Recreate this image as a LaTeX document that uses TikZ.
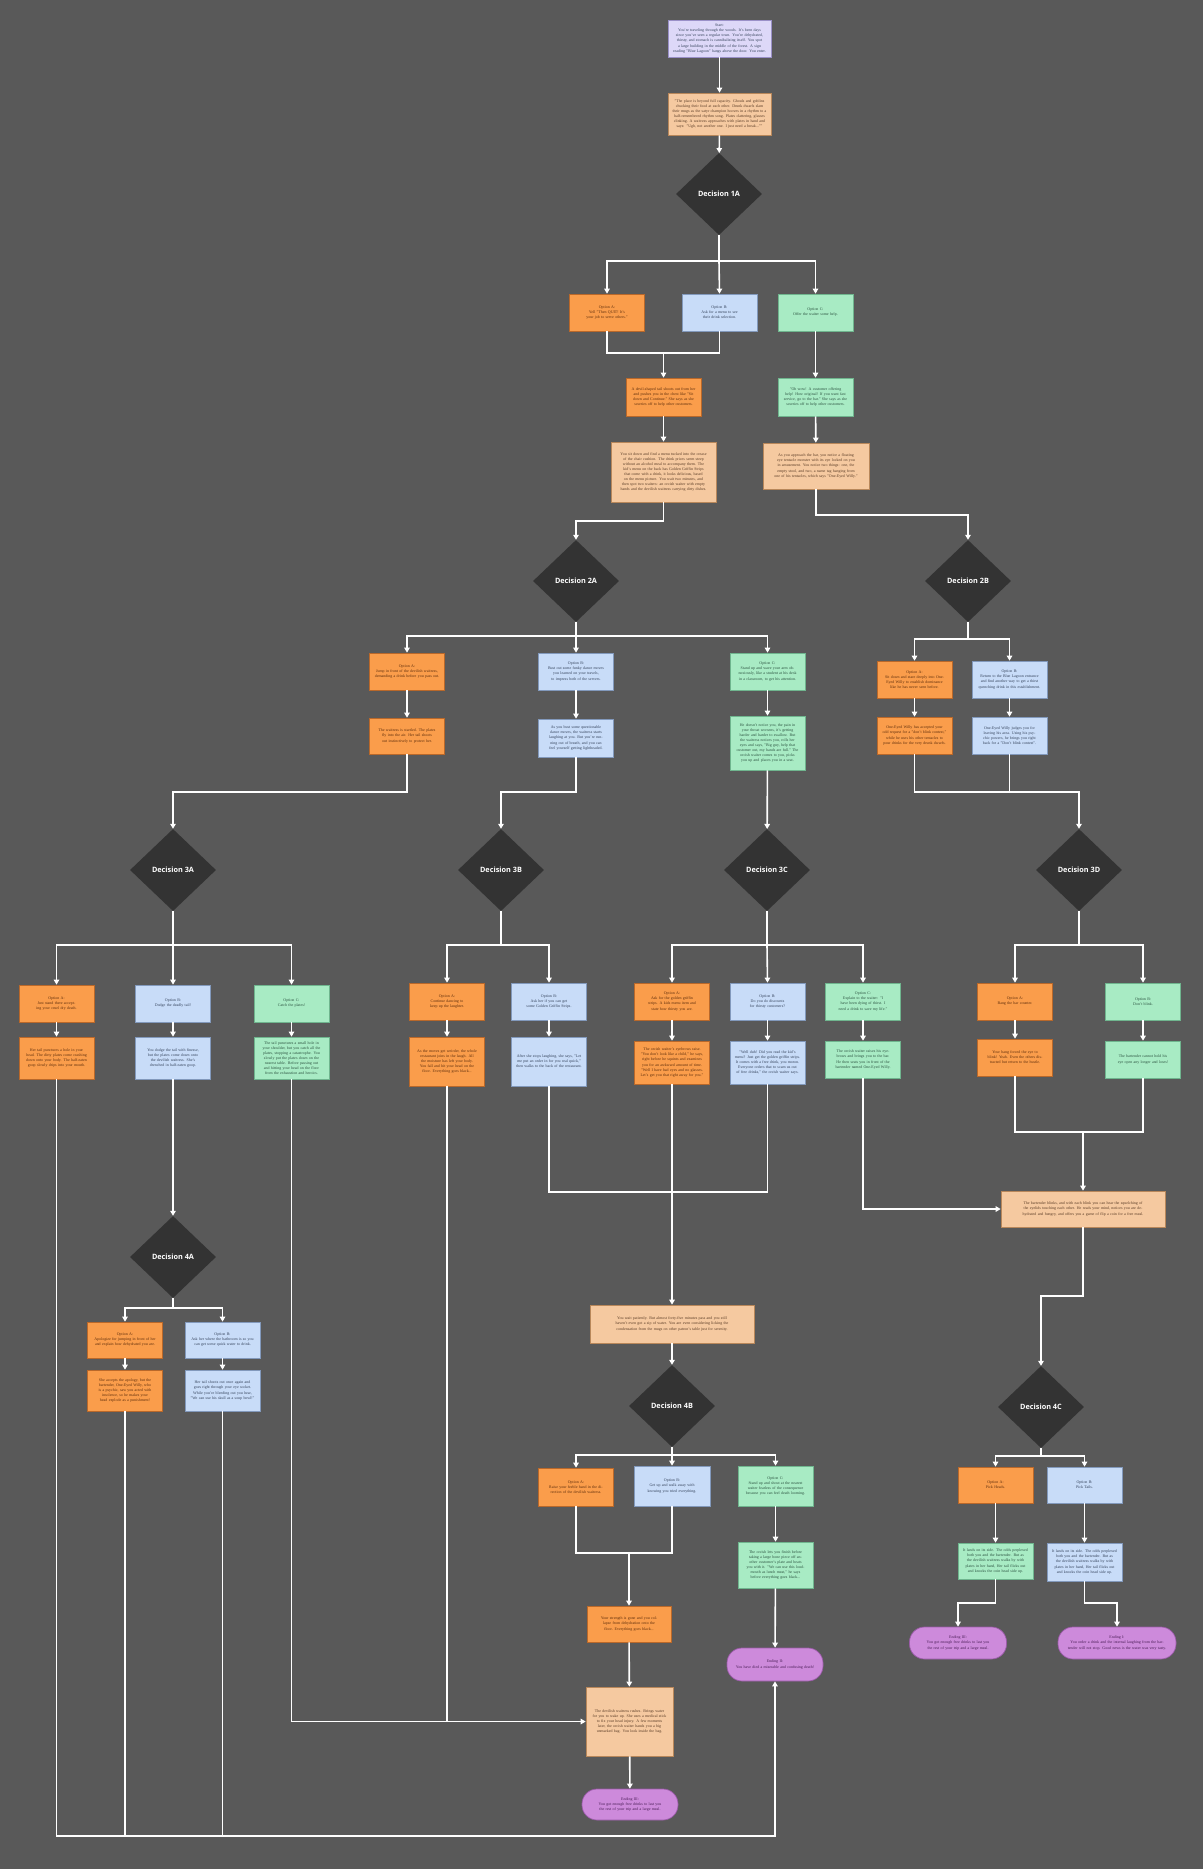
\documentclass[tikz,border=0pt]{standalone}
\usepackage{fontspec}
\setmainfont{Liberation Serif}
\newfontfamily\decfont{Open Sans}
\usetikzlibrary{shapes.geometric,arrows.meta}
\definecolor{bg}{HTML}{595959}
\definecolor{orF}{HTML}{FA9D4B}
\definecolor{orD}{HTML}{B9682A}
\definecolor{orT}{HTML}{5E2E0C}
\definecolor{blF}{HTML}{C8DCF8}
\definecolor{blD}{HTML}{8299BC}
\definecolor{blT}{HTML}{34425A}
\definecolor{grF}{HTML}{A8EBC4}
\definecolor{grD}{HTML}{6FB58E}
\definecolor{grT}{HTML}{2C5240}
\definecolor{peF}{HTML}{F5C9A0}
\definecolor{peD}{HTML}{B8875A}
\definecolor{peT}{HTML}{5A3C26}
\definecolor{stF}{HTML}{DDD8F8}
\definecolor{stD}{HTML}{9A90C8}
\definecolor{piF}{HTML}{CD8ADB}
\definecolor{piD}{HTML}{9A5AA8}
\definecolor{piT}{HTML}{4A1E56}
\definecolor{dia}{HTML}{333333}
\tikzset{
  sz/.style 2 args={text width=#1, minimum height=#2},
  boxbase/.style={rectangle, line width=0.7pt, align=center, inner xsep=4.5pt, inner ysep=2pt,
    font=\fontsize{3.95}{5.1}\selectfont},
  orbox/.style={boxbase, fill=orF, draw=orD, text=orT},
  blbox/.style={boxbase, fill=blF, draw=blD, text=blT},
  grbox/.style={boxbase, fill=grF, draw=grD, text=grT},
  pebox/.style={boxbase, fill=peF, draw=peD, text=peT},
  stbox/.style={boxbase, fill=stF, draw=stD, text=blT},
  pill/.style={boxbase, fill=piF, draw=piD, text=piT, rounded corners=15pt},
  decision/.style={diamond, fill=dia, draw=none, minimum width=86pt, minimum height=82pt, inner sep=0pt,
    text=white, font=\decfont\bfseries\fontsize{7.3}{9}\selectfont},
  conn/.style={draw=white, line width=1.6pt},
  arr/.style={conn, -{Triangle[length=5pt,width=5.5pt]}},
}
\begin{document}
\begin{tikzpicture}[x=1pt,y=-1pt]
\fill[bg] (0,0) rectangle (1203,1869);
\useasboundingbox (0,0) rectangle (1203,1869);

% ---------- top ----------
\node[stbox, sz={94pt}{37pt}] (start) at (719.5,38.5) {Start:\\ You're traveling through the woods. It's been days since you've seen a regular town. You're dehydrated, thirsty, and stomach is cannibalizing itself. You spot a large building in the middle of the forest. A sign reading "Blue Lagoon" hangs above the door. You enter.};
\node[pebox, sz={94pt}{42pt}] (intro) at (719.5,114) {"The place is beyond full capacity. Ghouls and goblins chucking their food at each other. Drunk dwarfs slam their mugs as the satyr champion hooves in a rhythm to a half-remembered rhythm song. Plates clattering, glasses clinking. A waitress approaches with plates in hand and says: "Ugh, not another one. I just need a break...""};
\node[decision] (d1a) at (719,194) {Decision 1A};

\node[orbox, sz={66pt}{37pt}] (o1a) at (607,312.5) {Option A:\\ Yell "Then QUIT! It's your job to serve others."};
\node[blbox, sz={66pt}{37pt}] (o1b) at (719.5,312.5) {Option B:\\ Ask for a menu to see their drink selection.};
\node[grbox, sz={66pt}{37pt}] (o1c) at (815.5,312.5) {Option C:\\ Offer the waiter some help.};

\node[orbox, sz={66pt}{38pt}] (r1ab) at (663.5,397) {A devil-shaped tail shoots out from her and pushes you in the chest like "Sit down and Continue." She says as she scurries off to help other customers.};
\node[grbox, sz={66pt}{38pt}] (r1c) at (815.5,397) {"Oh wow! A customer offering help! How original! If you want fast service, go to the bar." She says as she scurries off to help other customers.};

\node[pebox, sz={96pt}{60pt}] (n1ab) at (663.5,472) {You sit down and find a menu tucked into the crease of the chair cushion. The drink prices seem steep without an alcohol meal to accompany them. The kid's menu on the back has Golden Griffin Strips that come with a drink, it looks delicious, based on the menu picture. You wait two minutes, and then spot two waiters: an orcish waiter with empty hands and the devilish waitress carrying dirty dishes.};
\node[pebox, sz={97pt}{46pt}] (n1c) at (816,466) {As you approach the bar, you notice a floating eye tentacle monster with its eye locked on you in amusement. You notice two things: one, the empty stool, and two, a name tag hanging from one of his tentacles, which says "One-Eyed Willy."};

\node[decision] (d2a) at (576,581) {Decision 2A};
\node[decision] (d2b) at (968,581) {Decision 2B};

% ---------- level 2 ----------
\node[orbox, sz={66pt}{37pt}] (o2a) at (407,671.5) {Option A:\\ Jump in front of the devilish waitress, demanding a drink before you pass out.};
\node[blbox, sz={66pt}{37pt}] (o2b) at (576,671.5) {Option B:\\ Bust out some funky dance moves you learned on your travels, to impress both of the servers.};
\node[grbox, sz={66pt}{37pt}] (o2c) at (767.5,671.5) {Option C:\\ Stand up and wave your arm obnoxiously, like a student at his desk in a classroom, to get his attention.};

\node[orbox, sz={66pt}{36pt}] (r2a) at (407,736) {The waitress is startled. The plates fly into the air. Her tail shoots out instinctively to protect her.};
\node[blbox, sz={66pt}{38pt}] (r2b) at (576,738) {As you bust some questionable dance moves, the waitress starts laughing at you. But you're running out of breath, and you can feel yourself getting lightheaded.};
\node[grbox, sz={66pt}{54pt}] (r2c) at (767.5,743) {He doesn't notice you, the pain in your throat worsens, it's getting harder and harder to swallow. But the waitress notices you, rolls her eyes and says, "Big guy, help that customer out, my hands are full." The orcish waiter comes to you, picks you up and places you in a seat.};

\node[orbox, sz={66pt}{37pt}] (o2ba) at (914.5,679.5) {Option A:\\ Sit down and stare deeply into One-Eyed Willy to establish dominance like he has never seen before.};
\node[blbox, sz={66pt}{37pt}] (o2bb) at (1009.5,679.5) {Option B:\\ Return to the Blue Lagoon entrance and find another way to get a thirst quenching drink in this establishment.};
\node[orbox, sz={66pt}{37pt}] (r2ba) at (914.5,735.5) {One-Eyed Willy has accepted your odd request for a "don't blink contest," while he uses his other tentacles to pour drinks for the very drunk dwarfs.};
\node[blbox, sz={66pt}{37pt}] (r2bb) at (1009.5,735.5) {One-Eyed Willy judges you for leaving his area. Using his psychic powers, he brings you right back for a "Don't blink contest".};

\node[decision] (d3a) at (173,870) {Decision 3A};
\node[decision] (d3b) at (501,870) {Decision 3B};
\node[decision] (d3c) at (767,870) {Decision 3C};
\node[decision] (d3d) at (1079,870) {Decision 3D};

% ---------- level 3 ----------
\node[orbox, sz={66pt}{37pt}] (o3aa) at (56.5,1003.5) {Option A:\\ Just stand there accepting your cruel dry death.};
\node[blbox, sz={66pt}{37pt}] (o3ab) at (173,1003.5) {Option B:\\ Dodge the deadly tail!};
\node[grbox, sz={66pt}{37pt}] (o3ac) at (291.5,1003.5) {Option C:\\ Catch the plates!};
\node[orbox, sz={66pt}{42pt}] (r3aa) at (56.5,1058) {Her tail punctures a hole in your head. The dirty plates come crashing down onto your body. The half-eaten goop slowly drips into your mouth.};
\node[blbox, sz={66pt}{42pt}] (r3ab) at (173,1058) {You dodge the tail with finesse, but the plates come down onto the devilish waitress. She's drenched in half-eaten goop.};
\node[grbox, sz={66pt}{42pt}] (r3ac) at (291.5,1058) {The tail punctures a small hole in your shoulder, but you catch all the plates, stopping a catastrophe. You slowly put the plates down on the nearest table. Before passing out and hitting your head on the floor from the exhaustion and heroics.};

\node[orbox, sz={66pt}{37pt}] (o3ba) at (447,1001.5) {Option A:\\ Continue dancing to keep up the laughter.};
\node[blbox, sz={66pt}{37pt}] (o3bb) at (549,1001.5) {Option B:\\ Ask her if you can get some Golden Griffin Strips.};
\node[orbox, sz={66pt}{49pt}] (r3ba) at (447,1061.5) {As the moves get weirder, the whole restaurant joins in the laugh. All the moisture has left your body. You fall and hit your head on the floor. Everything goes black...};
\node[blbox, sz={66pt}{49pt}] (r3bb) at (549,1061.5) {After she stops laughing, she says, "Let me put an order in for you real quick," then walks to the back of the restaurant.};

\node[orbox, sz={66pt}{37pt}] (o3ca) at (672,1001.5) {Option A:\\ Ask for the golden griffin strips. A kids menu item and state how thirsty you are.};
\node[blbox, sz={66pt}{37pt}] (o3cb) at (767.5,1001.5) {Option B:\\ Do you do discounts for thirsty customers?};
\node[grbox, sz={66pt}{37pt}] (o3cc) at (863,1001.5) {Option C:\\ Explain to the waiter: "I have been dying of thirst. I need a drink to save my life."};
\node[orbox, sz={66pt}{43pt}] (r3ca) at (672,1062.5) {The orcish waiter's eyebrows raise. "You don't look like a child," he says, right before he squints and examines you for an awkward amount of time. "Well I have bad eyes and no glasses. Let's get you that right away for you."};
\node[blbox, sz={66pt}{43pt}] (r3cb) at (767.5,1062.5) {"Well duh! Did you read the kid's menu? Just get the golden griffin strips. It comes with a free drink, you moron. Everyone orders that to scam us out of free drinks," the orcish waiter says.};
\node[grbox, sz={66pt}{37pt}] (r3cc) at (863,1059.5) {The orcish waiter raises his eyebrows and brings you to the bar. He then seats you in front of the bartender named One-Eyed Willy.};

\node[orbox, sz={66pt}{37pt}] (o3da) at (1015,1001.5) {Option A:\\ Bang the bar counter.};
\node[grbox, sz={66pt}{37pt}] (o3db) at (1143,1001.5) {Option B:\\ Don't blink.};
\node[orbox, sz={66pt}{37pt}] (r3da) at (1015,1057.5) {Your bang forced the eye to blink! Yeah. Even the others distracted but return to the hustle.};
\node[grbox, sz={66pt}{37pt}] (r3db) at (1143,1059.5) {The bartender cannot hold his eye open any longer and loses!};

\node[pebox, sz={155pt}{36pt}] (merge) at (1083,1209) {The bartender blinks, and with each blink you can hear the squelching of the eyelids touching each other. He reads your mind, notices you are dehydrated and hungry, and offers you a game of flip a coin for a free meal.};

% ---------- 4A ----------
\node[decision] (d4a) at (173,1257) {Decision 4A};
\node[orbox, sz={66pt}{36pt}] (o4aa) at (125,1340) {Option A:\\ Apologize for jumping in front of her and explain how dehydrated you are.};
\node[blbox, sz={66pt}{36pt}] (o4ab) at (222.5,1340) {Option B:\\ Ask her where the bathroom is so you can get some quick water to drink.};
\node[orbox, sz={66pt}{41pt}] (r4aa) at (125,1390.5) {She accepts the apology, but the bartender, One-Eyed Willy, who is a psychic, saw you acted with insolence, so he makes your head explode as a punishment!};
\node[blbox, sz={66pt}{41pt}] (r4ab) at (222.5,1390.5) {Her tail shoots out once again and goes right through your eye socket. While you're bleeding out you hear, "We can use his skull as a soup bowl!"};

% ---------- 4B ----------
\node[pebox, sz={155pt}{38pt}] (wait) at (672,1324) {You wait patiently. But almost forty-five minutes pass and you still haven't even got a sip of water. You are even considering licking the condensation from the mugs on other patron's table just for serenity.};
\node[decision] (d4b) at (672,1406) {Decision 4B};
\node[orbox, sz={66pt}{38pt}] (o4ba) at (576,1487) {Option A:\\ Raise your feeble hand in the direction of the devilish waitress.};
\node[blbox, sz={67pt}{40pt}] (o4bb) at (672,1486) {Option B:\\ Get up and walk away with knowing you tried everything.};
\node[grbox, sz={66pt}{40pt}] (o4bc) at (775.5,1486) {Option C:\\ Stand up and shout at the nearest waiter fearless of the consequence because you can feel death looming.};
\node[grbox, sz={66pt}{46pt}] (r4bc) at (775.5,1565) {The orcish lets you finish before taking a large bone piece off another customer's plate and beats you with it. "We can use this loudmouth as lunch meat," he says before everything goes black...};
\node[orbox, sz={75pt}{36pt}] (r4bab) at (629,1624) {Your strength is gone and you collapse from dehydration onto the floor. Everything goes black...};
\node[pebox, sz={78pt}{69pt}] (waitress) at (629.5,1721.5) {The devilish waitress rushes. Brings water for you to wake up. She uses a medical stick to fix your head injury. A few moments later, the orcish waiter hands you a big unmarked bag. You look inside the bag.};
\node[pill, sz={87pt}{31pt}] (end3a) at (630,1804.5) {Ending III:\\ You got enough free drinks to last you the rest of your trip and a large meal.};
\node[pill, sz={87pt}{33pt}] (end2) at (775,1664.5) {Ending II:\\ You have died a miserable and confusing death!};

% ---------- 4C ----------
\node[decision] (d4c) at (1041,1407) {Decision 4C};
\node[orbox, sz={66pt}{36pt}] (o4ca) at (995.5,1485) {Option A:\\ Pick Heads.};
\node[blbox, sz={66pt}{36pt}] (o4cb) at (1084.5,1485) {Option B:\\ Pick Tails.};
\node[grbox, sz={66pt}{36pt}] (r4ca) at (995.5,1561) {It lands on its side. The odds perplexed both you and the bartender. But as the devilish waitress walks by with plates in her hand, Her tail flicks out and knocks the coin head side up.};
\node[blbox, sz={66pt}{38pt}] (r4cb) at (1084.5,1562) {It lands on its side. The odds perplexed both you and the bartender. But as the devilish waitress walks by with plates in her hand, Her tail flicks out and knocks the coin head side up.};
\node[pill, sz={88pt}{32pt}] (end3b) at (958,1643) {Ending III:\\ You got enough free drinks to last you the rest of your trip and a large meal.};
\node[pill, sz={109pt}{32pt}] (end1) at (1117,1643) {Ending I:\\ You order a drink and the internal laughing from the bartender will not stop. Good news is the water was very tasty.};

% ---------- bend coordinates ----------
\coordinate (h1) at (719,261);
\coordinate (j1) at (663.5,353);
\coordinate (k1) at (663.5,521);
\coordinate (k2) at (816,515);
\coordinate (h2) at (576,636);
\coordinate (h2b) at (968,639);
\coordinate (k3) at (407,792);
\coordinate (k4) at (576,792);
\coordinate (k5) at (914.5,792);
\coordinate (k6) at (1009.5,792);
\coordinate (h3a) at (173,945);
\coordinate (h3b) at (501,945);
\coordinate (h3c) at (767,945);
\coordinate (h3d) at (1079,945);
\coordinate (b1) at (56.5,1836);
\coordinate (b2) at (775,1836);
\coordinate (b3) at (125,1836);
\coordinate (b4) at (222.5,1836);
\coordinate (m1) at (291.5,1721.5);
\coordinate (m2) at (447,1721.5);
\coordinate (j2) at (549,1192);
\coordinate (j3) at (672,1192);
\coordinate (j4) at (767.5,1192);
\coordinate (m3) at (863,1209);
\coordinate (j5) at (1015,1132);
\coordinate (j6) at (1143,1132);
\coordinate (j7) at (1083,1132);
\coordinate (j8) at (1083,1296);
\coordinate (j9) at (1041,1296);
\coordinate (h4a) at (173,1308);
\coordinate (h4b) at (672,1455);
\coordinate (j10) at (576,1553);
\coordinate (j11) at (672,1553);
\coordinate (j12) at (629,1553);
\coordinate (h4c) at (1041,1456);
\coordinate (j13) at (995.5,1603);
\coordinate (j14) at (1084.5,1603);

% ---------- connectors ----------
\draw[arr] (start) -- (intro);
\draw[arr] (intro) -- (d1a);
\draw[conn] (d1a.south) -- (h1);
\draw[arr] (h1) -| (o1a.north);
\draw[arr] (h1) -- (o1b.north);
\draw[arr] (h1) -| (o1c.north);
\draw[conn] (o1a.south) |- (j1);
\draw[conn] (o1b.south) |- (j1);
\draw[arr] (j1) -- (r1ab.north);
\draw[arr] (o1c) -- (r1c);
\draw[arr] (r1ab) -- (n1ab);
\draw[arr] (r1c) -- (n1c);
\draw[arr] (n1ab.south) -- (k1) -| (d2a.north);
\draw[arr] (n1c.south) -- (k2) -| (d2b.north);

\draw[conn] (d2a.south) -- (h2);
\draw[arr] (h2) -| (o2a.north);
\draw[arr] (h2) -- (o2b.north);
\draw[arr] (h2) -| (o2c.north);
\draw[conn] (d2b.south) -- (h2b);
\draw[arr] (h2b) -| (o2ba.north);
\draw[arr] (h2b) -| (o2bb.north);
\draw[arr] (o2a) -- (r2a);
\draw[arr] (o2b) -- (r2b);
\draw[arr] (o2c) -- (r2c);
\draw[arr] (o2ba) -- (r2ba);
\draw[arr] (o2bb) -- (r2bb);
\draw[arr] (r2a.south) -- (k3) -| (d3a.north);
\draw[arr] (r2b.south) -- (k4) -| (d3b.north);
\draw[arr] (r2c) -- (d3c);
\draw[conn] (r2bb.south) -- (k6) -- (k5);
\draw[arr] (r2ba.south) -- (k5) -| (d3d.north);

\draw[conn] (d3a.south) -- (h3a);
\draw[arr] (h3a) -| (o3aa.north);
\draw[arr] (h3a) -- (o3ab.north);
\draw[arr] (h3a) -| (o3ac.north);
\draw[conn] (d3b.south) -- (h3b);
\draw[arr] (h3b) -| (o3ba.north);
\draw[arr] (h3b) -| (o3bb.north);
\draw[conn] (d3c.south) -- (h3c);
\draw[arr] (h3c) -| (o3ca.north);
\draw[arr] (h3c) -- (o3cb.north);
\draw[arr] (h3c) -| (o3cc.north);
\draw[conn] (d3d.south) -- (h3d);
\draw[arr] (h3d) -| (o3da.north);
\draw[arr] (h3d) -| (o3db.north);
\foreach \a/\b in {o3aa/r3aa,o3ab/r3ab,o3ac/r3ac,o3ba/r3ba,o3bb/r3bb,o3ca/r3ca,o3cb/r3cb,o3cc/r3cc,o3da/r3da,o3db/r3db}
  \draw[arr] (\a) -- (\b);

\draw[arr] (r3aa.south) -- (b1) -- (b2) -- (end2.south);
\draw[arr] (r3ab) -- (d4a);
\draw[arr] (r3ac.south) -- (m1) -- (waitress.west);
\draw[conn] (r3ba.south) -- (m2);
\draw[conn] (r3bb.south) -- (j2) -- (j3);
\draw[conn] (r3cb.south) -- (j4) -- (j3);
\draw[arr] (r3ca.south) -- (wait.north);
\draw[arr] (r3cc.south) -- (m3) -- (merge.west);
\draw[conn] (r3da.south) -- (j5) -- (j6) -- (r3db.south);
\draw[arr] (j7) -- (merge.north);
\draw[arr] (merge.south) -- (j8) -- (j9) -- (d4c.north);

\draw[conn] (d4a.south) -- (h4a);
\draw[arr] (h4a) -| (o4aa.north);
\draw[arr] (h4a) -| (o4ab.north);
\draw[arr] (o4aa) -- (r4aa);
\draw[arr] (o4ab) -- (r4ab);
\draw[conn] (r4aa.south) -- (b3);
\draw[conn] (r4ab.south) -- (b4);

\draw[arr] (wait) -- (d4b);
\draw[conn] (d4b.south) -- (h4b);
\draw[arr] (h4b) -| (o4ba.north);
\draw[arr] (h4b) -- (o4bb.north);
\draw[arr] (h4b) -| (o4bc.north);
\draw[conn] (o4ba.south) -- (j10) -- (j11) -- (o4bb.south);
\draw[arr] (j12) -- (r4bab.north);
\draw[arr] (o4bc) -- (r4bc);
\draw[arr] (r4bc) -- (end2);
\draw[arr] (r4bab) -- (waitress);
\draw[arr] (waitress) -- (end3a);

\draw[conn] (d4c.south) -- (h4c);
\draw[arr] (h4c) -| (o4ca.north);
\draw[arr] (h4c) -| (o4cb.north);
\draw[arr] (o4ca) -- (r4ca);
\draw[arr] (o4cb) -- (r4cb);
\draw[arr] (r4ca.south) -- (j13) -| (end3b.north);
\draw[arr] (r4cb.south) -- (j14) -| (end1.north);
\end{tikzpicture}
\end{document}
